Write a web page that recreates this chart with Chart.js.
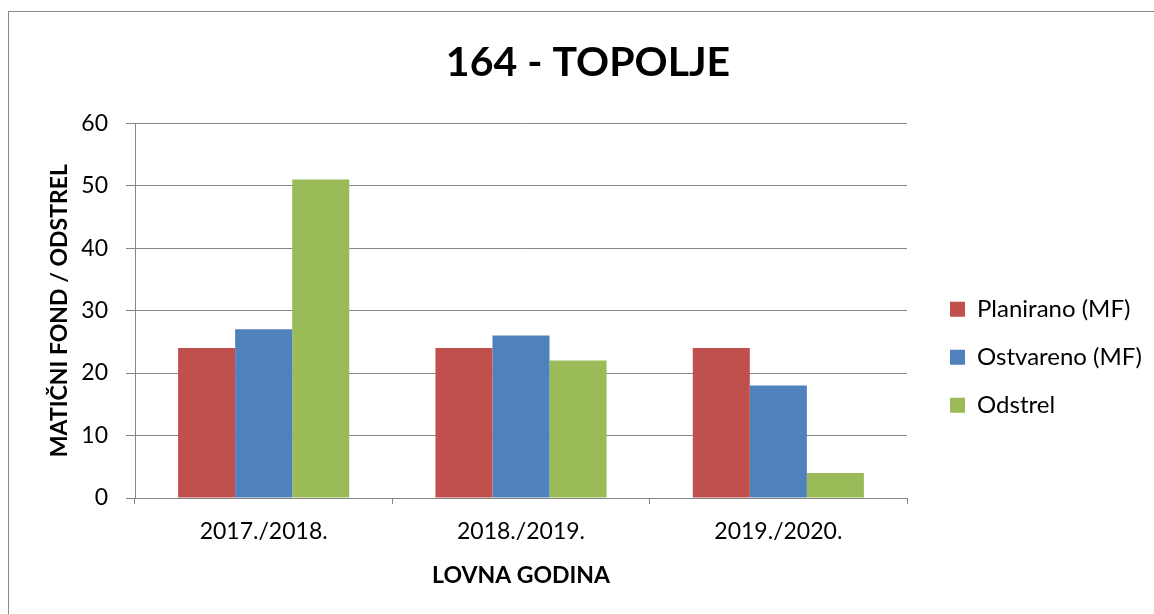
<!DOCTYPE html>
<html>
<head>
<meta charset="utf-8">
<script src="https://cdn.jsdelivr.net/npm/chart.js@4"></script>
<style>
  html, body { margin: 0; padding: 0; background: #fff; overflow: hidden; }
  #wrap { position: relative; width: 1154px; height: 614px; }
  #frame { position: absolute; left: 8px; top: 11px; width: 1300px; height: 800px;
           border-left: 1px solid #8a8a8a; border-top: 1px solid #8a8a8a; }
  canvas { position: absolute; left: 0; top: 0; }
</style>
</head>
<body>
<div id="wrap">
  <div id="frame"></div>
  <canvas id="chart" width="1154" height="614"></canvas>
</div>
<script>
// chart data
const seasons = ['2017./2018.', '2018./2019.', '2019./2020.'];
const planirano = [24, 24, 24];
const ostvareno = [27, 26, 18];
const odstrel = [51, 22, 4];
const seriesNames = ['Planirano (MF)', 'Ostvareno (MF)', 'Odstrel'];
const yTicks = { min: 0, max: 60, step: 10 };

const gridColor = '#868686';
const font = 'Lato, "Open Sans", sans-serif';
const plotRight = 907;   // plot area ends here
const legendGap = 19;    // extra space between plot area and legend
const legendFont = 24, legendBox = 15, legendPad = 24;

// move legend a bit to the right and center the title like the original
const nudge = {
  id: 'nudge',
  afterLayout(chart) {
    chart.legend.left += legendGap;
    chart.legend.right += legendGap;
    chart.titleBlock.left = 22;
    chart.titleBlock.right = chart.width;
  }
};

function draw() {
  const canvas = document.getElementById('chart');
  const ctx = canvas.getContext('2d');

  // legend width as chart.js computes it, so the plot can end at plotRight
  ctx.font = legendFont + 'px Lato';
  const textW = Math.max(...seriesNames.map(n => ctx.measureText(n).width));
  const legendW = legendPad + legendBox + legendFont / 2 + textW + 10;
  const padRight = Math.max(0, canvas.width - plotRight - legendW);

  new Chart(ctx, {
    type: 'bar',
    data: {
      labels: seasons,
      datasets: [
        { label: seriesNames[0], data: planirano, backgroundColor: '#C0504D' },
        { label: seriesNames[1], data: ostvareno, backgroundColor: '#4F81BD' },
        { label: seriesNames[2], data: odstrel, backgroundColor: '#9BBB59' }
      ]
    },
    options: {
      responsive: false,
      animation: false,
      categoryPercentage: 0.665,
      barPercentage: 1,
      layout: { padding: { left: 0, right: padRight, top: 0, bottom: 0 } },
      scales: {
        x: {
          grid: { drawOnChartArea: false, drawTicks: true, tickLength: 6, color: gridColor, offset: true },
          border: { color: gridColor, width: 1 },
          ticks: { color: '#000', font: { family: font, size: 23 }, padding: 14 },
          title: { display: true, text: 'LOVNA GODINA', color: '#000',
                   font: { family: font, size: 23, weight: 'bold' }, padding: { top: 12, bottom: 25 } },
          afterFit: s => { s.height = 116; }
        },
        y: {
          min: yTicks.min, max: yTicks.max,
          grid: { color: gridColor, tickLength: 9 },
          border: { color: gridColor, width: 1 },
          ticks: { stepSize: yTicks.step, color: '#000', font: { family: font, size: 23 }, padding: 18 },
          title: { display: true, text: 'MATIČNI FOND / ODSTREL', color: '#000',
                   font: { family: font, size: 23, weight: 'bold' }, padding: { top: 46, bottom: 8 } },
          afterFit: s => { s.width = 135; }
        }
      },
      plugins: {
        title: {
          display: true, text: '164 - TOPOLJE', color: '#000',
          font: { family: font, size: 41, weight: 'bold' },
          padding: { top: 38, bottom: 36 }
        },
        legend: {
          position: 'right',
          title: { display: true, text: '', padding: { top: 86, bottom: 0 } },
          labels: {
            color: '#000', boxWidth: legendBox, boxHeight: legendBox, padding: legendPad,
            font: { family: font, size: legendFont }
          }
        },
        tooltip: { enabled: false }
      }
    },
    plugins: [nudge]
  });
}

Promise.all([
  document.fonts.load('24px Lato'),
  document.fonts.load('bold 24px Lato')
]).then(draw, draw);
</script>
</body>
</html>
